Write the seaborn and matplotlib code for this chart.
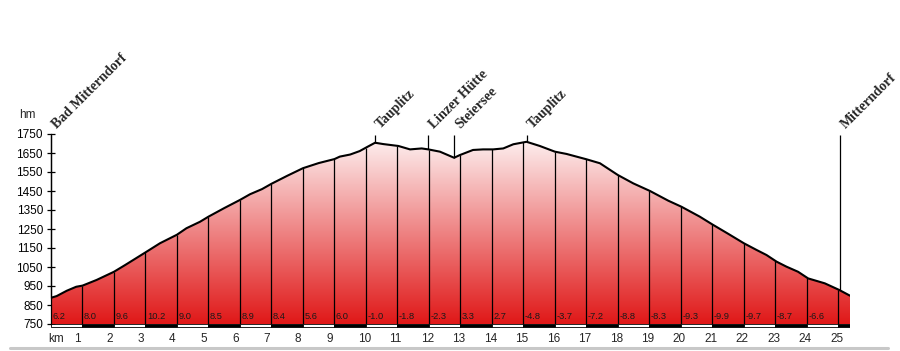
#!/usr/bin/env python
# ------------------------------------------------------
# Elevation profile Bad Mitterndorf - Tauplitz - Mitterndorf
# - Creates "out.png"
# ------------------------------------------------------

import numpy as np
import matplotlib
matplotlib.use("Agg")
import matplotlib.pyplot as plt
import seaborn as sns
from matplotlib.colors import LinearSegmentedColormap
from matplotlib.patches import Polygon
from matplotlib.lines import Line2D
from matplotlib.transforms import offset_copy

# profile: distance [km] / elevation [m]
dist_km = [0, 0.18, 0.5, 0.8, 1.0, 1.45, 2.0, 2.35, 3.0, 3.46,
           4.0, 4.3, 4.73, 5.0, 5.5, 6.0, 6.32, 6.7, 7.0, 7.5,
           8.0, 8.5, 9.0, 9.17, 9.5, 9.8, 10.02, 10.29, 10.55, 11.03,
           11.4, 11.77, 11.98, 12.35, 12.8, 12.98, 13.4, 13.72, 14.04, 14.36,
           14.68, 15.1, 15.52, 16.0, 16.37, 17.0, 17.43, 18.0, 18.49, 19.02,
           19.6, 20.02, 20.6, 21.0, 21.5, 22.0, 22.4, 22.72, 23.04, 23.35,
           23.72, 24.04, 24.57, 25.03, 25.37]
elev_m = [888, 897, 925, 946, 952, 982, 1025, 1060, 1127, 1175,
          1220, 1254, 1288, 1315, 1360, 1403, 1433, 1460, 1488, 1530,
          1570, 1597, 1618, 1631, 1642, 1660, 1680, 1704, 1697, 1687,
          1669, 1674, 1669, 1657, 1625, 1639, 1666, 1669, 1669, 1674,
          1696, 1709, 1687, 1657, 1645, 1617, 1596, 1534, 1490, 1450,
          1399, 1367, 1315, 1274, 1225, 1175, 1140, 1113, 1078, 1052,
          1025, 990, 964, 929, 899]

km_ticks = list(range(1, 26))
y_ticks = list(range(750, 1751, 100))

# gradient [%] for each km segment, starting at km 0
grade_pct = ["6.2", "8.0", "9.6", "10.2", "9.0", "8.5", "8.9", "8.4", "5.6",
             "6.0", "-1.0", "-1.8", "-2.3", "3.3", "2.7", "-4.8", "-3.7",
             "-7.2", "-8.8", "-8.3", "-9.3", "-9.9", "-9.7", "-8.7", "-6.6"]

waypoints = ["Bad Mitterndorf", "Tauplitz", "Linzer Hütte", "Steiersee",
             "Tauplitz", "Mitterndorf"]
waypoint_km = [0.0, 10.29, 11.98, 12.8, 15.1, 25.05]

sns.set_style("white")
plt.rcParams["font.family"] = ["Liberation Sans", "DejaVu Sans"]

fig = plt.figure(figsize=(9, 3.51), dpi=100)
ax = fig.add_axes([51 / 900, 17.5 / 351, 799 / 900, 209 / 351])

x_end = dist_km[-1]
base = 750

# red -> white gradient, clipped to the area below the profile
cmap = LinearSegmentedColormap.from_list("redwhite", ["#e01818", "#ffffff"])
grad = np.linspace(0, 1, 256).reshape(-1, 1)
im = ax.imshow(grad, extent=[0, x_end, base, 1790], origin="lower",
               aspect="auto", cmap=cmap, zorder=1)
verts = list(zip(dist_km, elev_m)) + [(x_end, base), (0, base)]
poly = Polygon(verts, closed=True, facecolor="none", edgecolor="none",
               transform=ax.transData)
ax.add_patch(poly)
im.set_clip_path(poly)

# profile line
sns.lineplot(x=dist_km, y=elev_m, ax=ax, color="black", linewidth=1.5,
             zorder=4)

# km lines up to the profile
km_tops = np.interp(km_ticks, dist_km, elev_m)
ax.vlines(km_ticks, base, km_tops, color="black", linewidth=0.9, zorder=3)

# black / white km bar
starts = np.arange(0, 26)
widths = [1.0] * 25 + [x_end - 25]
colors = ["black" if s % 2 else "white" for s in starts]
ax.bar(starts, -17, width=widths, bottom=base, align="edge", color=colors,
       edgecolor="black", linewidth=0.6, zorder=3)

# gradient labels
tr_grade = offset_copy(ax.transData, fig, x=1.5, y=0, units="dots")
for i, g in enumerate(grade_pct):
    ax.text(i, 790, g, transform=tr_grade, fontsize=6.7, color="#1a1a1a",
            ha="left", va="center", zorder=5)

# waypoints
wp_tops = np.interp(waypoint_km, dist_km, elev_m)
ax.vlines(waypoint_km, wp_tops, 1747, color="black", linewidth=0.9,
          zorder=3, clip_on=False)
tr_wp = offset_copy(ax.transData, fig, x=6, y=6, units="dots")
for k, name in zip(waypoint_km, waypoints):
    ax.text(k, 1747, name, transform=tr_wp, rotation=45,
            rotation_mode="anchor", ha="left", va="baseline", fontsize=10,
            fontweight="bold", family=["Liberation Serif", "DejaVu Serif"],
            clip_on=False)

# axes
ax.set_xlim(0, x_end)
ax.set_ylim(700, 1800)
ax.set_yticks(y_ticks)
ax.set_xticks([])
for side in ["top", "right", "bottom"]:
    ax.spines[side].set_visible(False)
ax.spines["left"].set_bounds(750, 1750)
ax.spines["left"].set_color("black")
ax.spines["left"].set_linewidth(0.9)
ax.spines["left"].set_zorder(6)
ax.tick_params(axis="y", left=True, direction="inout", length=5.8,
               width=0.9, pad=2.9, labelsize=8.5, colors="black")
ax.set_xlabel("")
ax.set_ylabel("")

# km labels
tr_km = offset_copy(ax.get_xaxis_transform(), fig, x=-8, y=-5, units="dots")
for k in km_ticks:
    ax.text(k, 0, str(k), transform=tr_km, ha="left", va="center",
            fontsize=8.5)
ax.text(0, 0, "km", transform=offset_copy(ax.get_xaxis_transform(), fig,
        x=-3, y=-5, units="dots"), ha="left", va="center", fontsize=8.5)
ax.text(0, 1750, "hm", transform=offset_copy(ax.transData, fig, x=-24,
        y=19, units="dots"), ha="center", va="center", fontsize=8.5,
        clip_on=False)

# grey rule at the bottom
fig.add_artist(Line2D([10 / 900, 888 / 900], [3 / 351, 3 / 351],
                      transform=fig.transFigure, color="#c8c8c8",
                      linewidth=2.2))

fig.savefig("out.png", dpi=100)
plt.close()
